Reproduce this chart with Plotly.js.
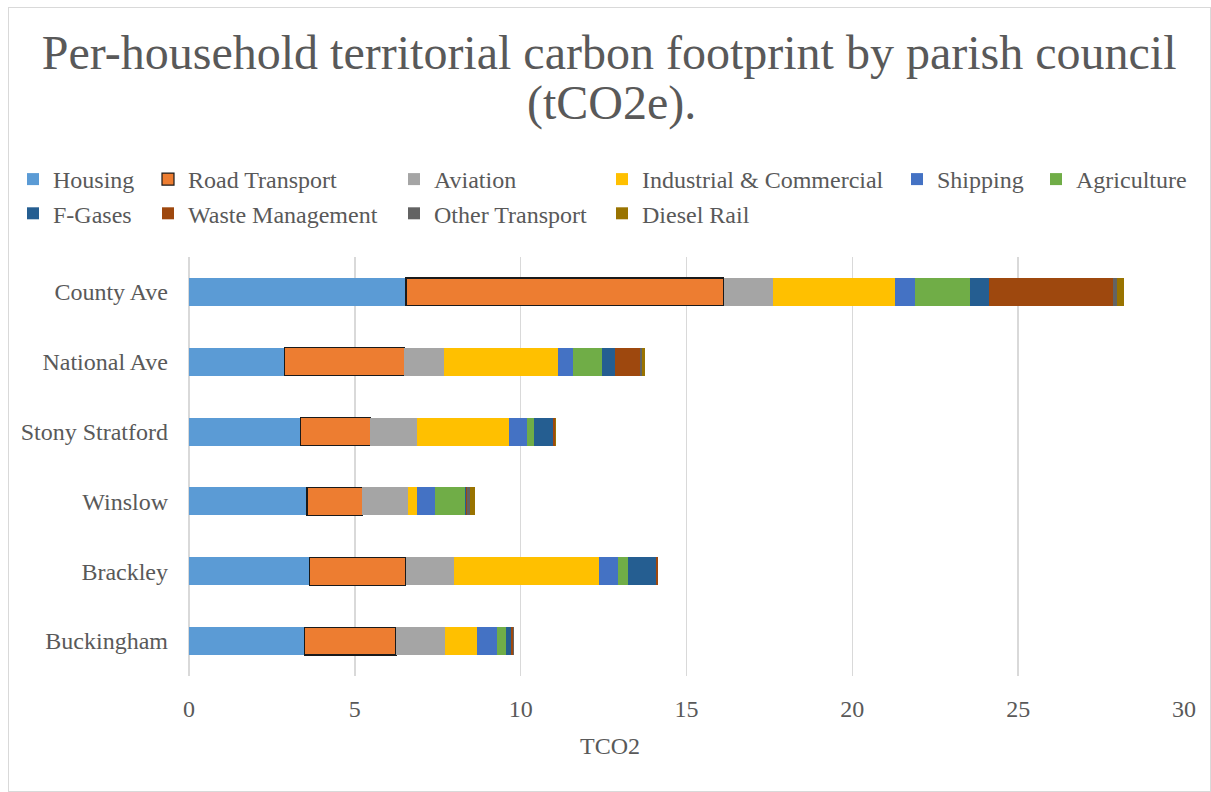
<!DOCTYPE html>
<html>
<head>
<meta charset="utf-8">
<script src="https://cdn.plot.ly/plotly-3.0.1.min.js"></script>
<style>
  html, body { margin: 0; padding: 0; background: #ffffff; }
  #wrap { position: relative; width: 1211px; height: 792px; }
  #chart { width: 1211px; height: 792px; }
  #frame {
    position: absolute; left: 8px; top: 7px; width: 1201px; height: 783px;
    border: 1px solid #d9d9d9; pointer-events: none;
  }
</style>
</head>
<body>
<div id="wrap">
  <div id="chart"></div>
  <div id="frame"></div>
</div>
<script>
// Parish councils, listed top to bottom
const parishes = ["County Ave", "National Ave", "Stony Stratford", "Winslow", "Brackley", "Buckingham"];

// Per-household emissions by sector (tCO2e)
const housing        = [6.54, 2.89, 3.37, 3.56, 3.63, 3.48];
const roadTransport  = [9.58, 3.60, 2.10, 1.67, 2.90, 2.76];
const aviation       = [1.50, 1.20, 1.40, 1.36, 1.47, 1.48];
const industrial     = [3.67, 3.43, 2.79, 0.28, 4.37, 0.96];
const shipping       = [0.61, 0.47, 0.54, 0.55, 0.57, 0.60];
const agriculture    = [1.65, 0.85, 0.19, 0.91, 0.29, 0.29];
const fGases         = [0.56, 0.41, 0.59, 0.02, 0.85, 0.15];
const wasteMgmt      = [3.75, 0.76, 0.06, 0.03, 0.05, 0.06];
const otherTransport = [0.12, 0.06, 0.01, 0.09, 0.01, 0.01];
const dieselRail     = [0.21, 0.08, 0.01, 0.15, 0.01, 0.01];

const sectorNames = ["Housing", "Road Transport", "Aviation", "Industrial & Commercial", "Shipping",
                     "Agriculture", "F-Gases", "Waste Management", "Other Transport", "Diesel Rail"];
const sectorValues = [housing, roadTransport, aviation, industrial, shipping,
                      agriculture, fGases, wasteMgmt, otherTransport, dieselRail];
const sectorColors = ["#5B9BD5", "#ED7D31", "#A5A5A5", "#FFC000", "#4472C4",
                      "#70AD47", "#255E91", "#9E480E", "#636363", "#997300"];

// Legend entries are laid out in aligned columns, one legend per column
const legendColumn = ["legend", "legend2", "legend3", "legend4", "legend5",
                      "legend6", "legend", "legend2", "legend3", "legend4"];
const columnTextX = [53, 188, 434, 642, 937, 1076];

const W = 1211, H = 792;
const FONT = "Liberation Serif, Times New Roman, serif";
const GREY = "#595959";

const traces = sectorNames.map((name, i) => ({
  type: "bar",
  orientation: "h",
  name: name,
  y: parishes,
  x: sectorValues[i],
  legend: legendColumn[i],
  marker: {
    color: sectorColors[i],
    line: name === "Road Transport" ? {color: "#1a1a1a", width: 1.2} : {width: 0}
  },
  hoverinfo: "name+x"
}));

const layout = {
  width: W, height: H,
  barmode: "stack",
  bargap: 0.6,
  paper_bgcolor: "#ffffff",
  plot_bgcolor: "#ffffff",
  font: {family: FONT, color: GREY, size: 24},
  margin: {l: 189, r: 27, t: 257, b: 116, autoexpand: false},
  title: {
    text: "Per-household territorial carbon footprint by parish council",
    font: {family: FONT, size: 48, color: GREY},
    x: 0.503, xref: "container", xanchor: "center",
    y: 1 - 52 / H, yref: "container", yanchor: "middle"
  },
  annotations: [
    {
      // second line of the chart title
      text: "(tCO2e).",
      xref: "paper", yref: "paper",
      x: (611 - 189) / 995, y: (676 - 103) / 419,
      xanchor: "center", yanchor: "middle",
      showarrow: false,
      font: {family: FONT, size: 48, color: GREY}
    },
    {
      // value-axis title, centred on the chart rather than the plot area
      text: "TCO2",
      xref: "paper", yref: "paper",
      x: (610 - 189) / 995, y: (676 - 746) / 419,
      xanchor: "center", yanchor: "middle",
      showarrow: false,
      font: {family: FONT, size: 24, color: GREY}
    }
  ],
  xaxis: {
    range: [0, 30], dtick: 5, tick0: 0,
    showgrid: true, gridcolor: "#d9d9d9", gridwidth: 1.5,
    zeroline: true, zerolinecolor: "#d9d9d9", zerolinewidth: 1.5,
    showline: false, ticks: "",
    ticklabelstandoff: 16,
    tickfont: {family: FONT, size: 24, color: GREY}
  },
  yaxis: {
    type: "category",
    autorange: "reversed",
    showgrid: false, zeroline: false, showline: false, ticks: "",
    ticklabelstandoff: 20,
    tickfont: {family: FONT, size: 24, color: GREY}
  },
  showlegend: true
};

// One vertical legend per column, two rows each
["legend", "legend2", "legend3", "legend4", "legend5", "legend6"].forEach((key, c) => {
  layout[key] = {
    orientation: "v",
    traceorder: "normal",
    xref: "container", yref: "container",
    x: (columnTextX[c] - 40) / W, xanchor: "left",
    y: 1 - 157 / H, yanchor: "top",
    bgcolor: "rgba(0,0,0,0)",
    borderwidth: 0,
    font: {family: FONT, size: 24, color: GREY},
    itemclick: false, itemdoubleclick: false
  };
});

Plotly.newPlot("chart", traces, layout, {displayModeBar: false, staticPlot: true});
</script>
</body>
</html>
